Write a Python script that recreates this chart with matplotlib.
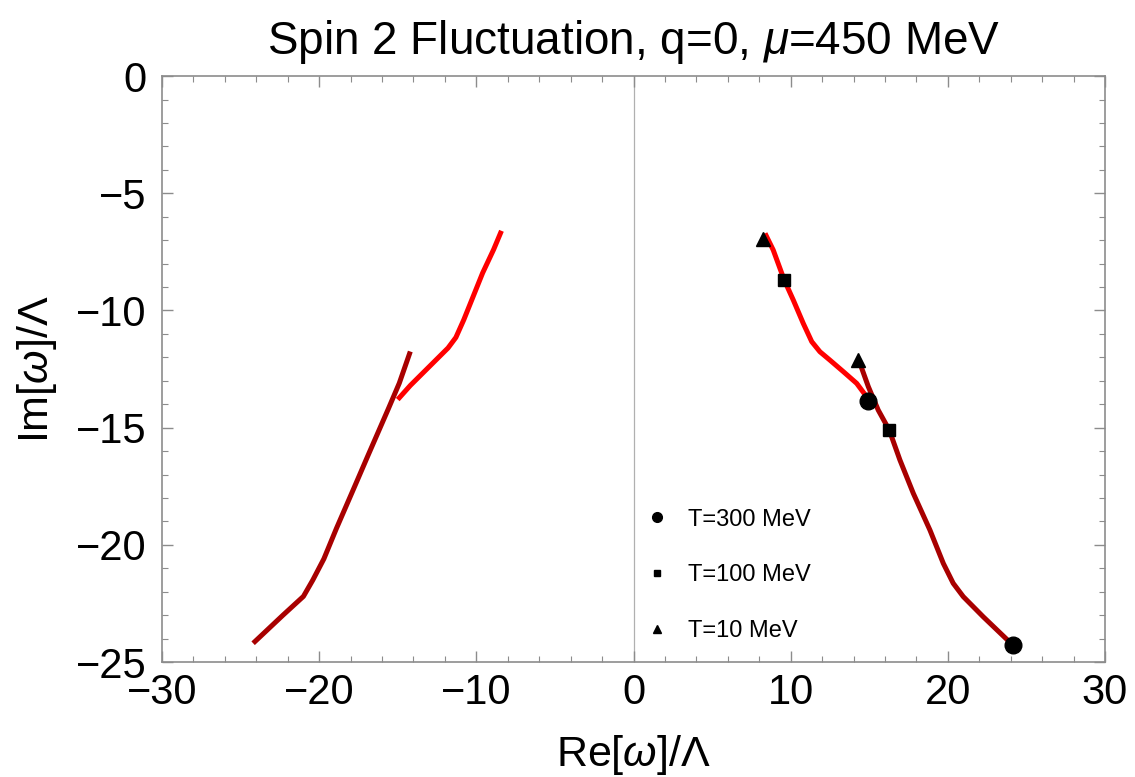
import numpy as np
import matplotlib
matplotlib.use("Agg")
import matplotlib.pyplot as plt
from matplotlib.lines import Line2D
from matplotlib.ticker import MultipleLocator

plt.rcParams["font.family"] = ["Liberation Sans", "DejaVu Sans"]
plt.rcParams["mathtext.fontset"] = "custom"
plt.rcParams["mathtext.it"] = "Liberation Sans:italic"
plt.rcParams["mathtext.rm"] = "Liberation Sans"

# branch values: Re[w]/L, Im[w]/L
left_dark_re = [-24.2, -22.3, -21.0, -20.4, -19.7, -18.9, -17.8, -16.9, -15.6, -14.9, -14.2]
left_dark_im = [-24.2, -23.0, -22.2, -21.5, -20.6, -19.3, -17.6, -16.2, -14.2, -13.1, -11.75]
left_light_re = [-15.0, -14.2, -13.3, -12.4, -11.8, -11.3, -10.8, -10.2, -9.6, -8.9, -8.4]
left_light_im = [-13.8, -13.2, -12.6, -12.0, -11.6, -11.15, -10.4, -9.4, -8.4, -7.4, -6.6]

right_light_re = [8.37, 8.89, 9.59, 10.17, 10.80, 11.34, 11.86, 12.50, 13.35, 14.20, 14.83]
right_light_im = [-6.71, -7.42, -8.70, -9.56, -10.55, -11.33, -11.76, -12.12, -12.61, -13.11, -13.68]
right_dark_re = [14.41, 14.94, 15.57, 16.27, 16.95, 17.80, 18.86, 19.71, 20.34, 20.98, 22.25, 24.12]
right_dark_im = [-12.26, -13.25, -14.25, -15.10, -16.38, -17.80, -19.37, -20.79, -21.64, -22.21, -23.07, -24.27]

# marked temperatures on the Re>0 branches
t300_re = [14.94, 24.12]
t300_im = [-13.85, -24.27]
t100_re = [9.6, 16.27]
t100_im = [-8.7, -15.1]
t10_re = [8.25, 14.26]
t10_im = [-6.95, -12.12]
legend_labels = ["T=300 MeV", "T=100 MeV", "T=10 MeV"]

red = "#ff0000"
dark = "#a80000"
frame = "#8c8c8c"

fig = plt.figure(figsize=(11.35, 7.77), dpi=100)
ax = fig.add_axes([0.1427, 0.148, 0.8309, 0.754])

ax.axvline(0, color="#b0b0b0", lw=0.9, zorder=0)
for xs, ys, c in [(left_dark_re, left_dark_im, dark),
                  (left_light_re, left_light_im, red),
                  (right_light_re, right_light_im, red),
                  (right_dark_re, right_dark_im, dark)]:
    ax.plot(xs, ys, color=c, lw=3.6, solid_capstyle="butt", solid_joinstyle="round")

ax.plot(t300_re, t300_im, "o", color="black", ms=12, zorder=5)
ax.plot(t100_re, t100_im, "s", color="black", ms=8.5, zorder=5)
ax.plot(t10_re, t10_im, "^", color="black", ms=10.5, zorder=5)

ax.set_xlim(-30, 30)
ax.set_ylim(-25, 0)
ax.xaxis.set_major_locator(MultipleLocator(10))
ax.xaxis.set_minor_locator(MultipleLocator(2))
ax.yaxis.set_major_locator(MultipleLocator(5))
ax.yaxis.set_minor_locator(MultipleLocator(1))
ax.tick_params(which="both", direction="in", top=True, right=True,
               color=frame, labelsize=30)
ax.tick_params(axis="x", pad=8)
ax.tick_params(axis="y", pad=11)
ax.tick_params(which="major", length=8, width=1.0)
ax.tick_params(which="minor", length=4.5, width=0.8)
for s in ax.spines.values():
    s.set_color(frame)
    s.set_linewidth(1.2)

ax.set_title(r"Spin 2 Fluctuation, q=0, $\mathit{\mu}$=450 MeV", fontsize=33, pad=16)
ax.set_xlabel(r"Re[$\mathit{\omega}$]/Λ", fontsize=31, labelpad=14)
ax.set_ylabel(r"Im[$\mathit{\omega}$]/Λ", fontsize=31, labelpad=12)

handles = [
    Line2D([], [], ls="none", marker="o", color="black", ms=7),
    Line2D([], [], ls="none", marker="s", color="black", ms=5),
    Line2D([], [], ls="none", marker="^", color="black", ms=6),
]
ax.legend(handles, legend_labels, loc="upper left", bbox_to_anchor=(0.5, 0.278),
          frameon=False, fontsize=17, labelspacing=1.43, handlelength=1.2,
          handletextpad=0.7, borderaxespad=0)

fig.savefig("out.png", dpi=100)
